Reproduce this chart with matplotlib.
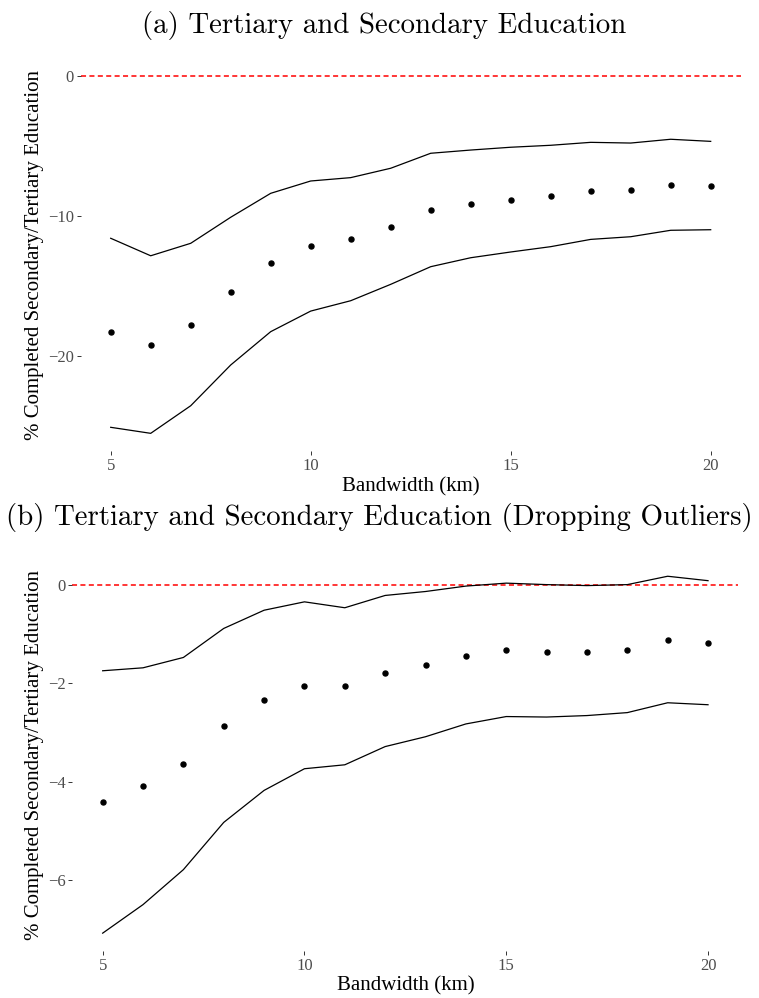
import matplotlib
matplotlib.use("Agg")
import matplotlib.pyplot as plt

# Bandwidths (km)
bandwidth = [5, 6, 7, 8, 9, 10, 11, 12, 13, 14, 15, 16, 17, 18, 19, 20]

# (a) full sample: point estimates and confidence bounds
est_a = [-18.31, -19.19, -17.79, -15.41, -13.33, -12.12, -11.67, -10.76,
         -9.57, -9.14, -8.88, -8.57, -8.21, -8.12, -7.79, -7.83]
upper_a = [-11.59, -12.84, -11.95, -10.09, -8.38, -7.50, -7.26, -6.59,
           -5.52, -5.29, -5.09, -4.95, -4.74, -4.79, -4.52, -4.67]
lower_a = [-25.09, -25.52, -23.55, -20.64, -18.26, -16.79, -16.05, -14.88,
           -13.62, -12.98, -12.57, -12.19, -11.67, -11.48, -11.02, -10.98]

# (b) dropping outliers
est_b = [-4.42, -4.09, -3.64, -2.87, -2.35, -2.05, -2.06, -1.79,
         -1.63, -1.46, -1.33, -1.36, -1.36, -1.32, -1.12, -1.18]
upper_b = [-1.75, -1.69, -1.48, -0.89, -0.52, -0.35, -0.47, -0.22,
           -0.14, -0.03, 0.03, 0.00, -0.02, 0.00, 0.17, 0.08]
lower_b = [-7.08, -6.50, -5.79, -4.83, -4.18, -3.74, -3.66, -3.29,
           -3.09, -2.83, -2.68, -2.69, -2.66, -2.60, -2.40, -2.44]

xticks = [5, 10, 15, 20]
yticks_a = [0, -10, -20]
yticks_b = [0, -2, -4, -6]

title_a = "(a) Tertiary and Secondary Education"
title_b = "(b) Tertiary and Secondary Education (Dropping Outliers)"
ylabel = "% Completed Secondary/Tertiary Education"
xlabel = "Bandwidth (km)"

W, H = 759, 998
fig = plt.figure(figsize=(W / 100, H / 100), dpi=100)

serif = ["Liberation Serif", "DejaVu Serif"]
cm = ["cmr10", "DejaVu Serif"]
tick_col = "#4D4D4D"


def px_axes(left, right, top, bottom):
    return fig.add_axes([left / W, 1 - bottom / H, (right - left) / W, (bottom - top) / H])


def pad_limits(vals, frac=0.05):
    lo, hi = min(vals), max(vals)
    r = hi - lo
    return lo - frac * r, hi + frac * r


def draw(ax, est, up, lo, yticks):
    ax.axhline(0, color="#FF0000", lw=1.1, ls=(0, (3.3, 2.2)), zorder=1)
    ax.plot(bandwidth, up, color="black", lw=0.9, zorder=2)
    ax.plot(bandwidth, lo, color="black", lw=0.9, zorder=2)
    ax.plot(bandwidth, est, "o", color="black", ms=3.6, zorder=3)
    ax.set_xlim(*pad_limits(bandwidth))
    ax.set_ylim(*pad_limits(up + lo + est + [0]))
    ax.set_xticks(xticks)
    ax.set_yticks(yticks)
    for s in ax.spines.values():
        s.set_visible(False)
    ax.tick_params(axis="both", length=3, width=0.7, color="#333333",
                   labelcolor=tick_col, labelsize=12, pad=2)
    for lab in ax.get_xticklabels() + ax.get_yticklabels():
        lab.set_family(serif)
    ax.set_xlabel(xlabel, fontsize=15, family=serif, labelpad=2)


ax_a = px_axes(80.7, 740.7, 58.1, 451.2)
draw(ax_a, est_a, upper_a, lower_a, yticks_a)
ax_b = px_axes(72.4, 738.3, 558.4, 951.0)
draw(ax_b, est_b, upper_b, lower_b, yticks_b)

fig.text(35 / W, 1 - 255 / H, ylabel, rotation=90, ha="center", va="center",
         fontsize=15, family=serif)
fig.text(35 / W, 1 - 755 / H, ylabel, rotation=90, ha="center", va="center",
         fontsize=15, family=serif)

fig.text(384 / W, 1 - 26 / H, title_a, ha="center", va="center", fontsize=20.8,
         family=cm)
fig.text(379 / W, 1 - 517 / H, title_b, ha="center", va="center", fontsize=20.8,
         family=cm)

fig.savefig("out.png", dpi=100)
